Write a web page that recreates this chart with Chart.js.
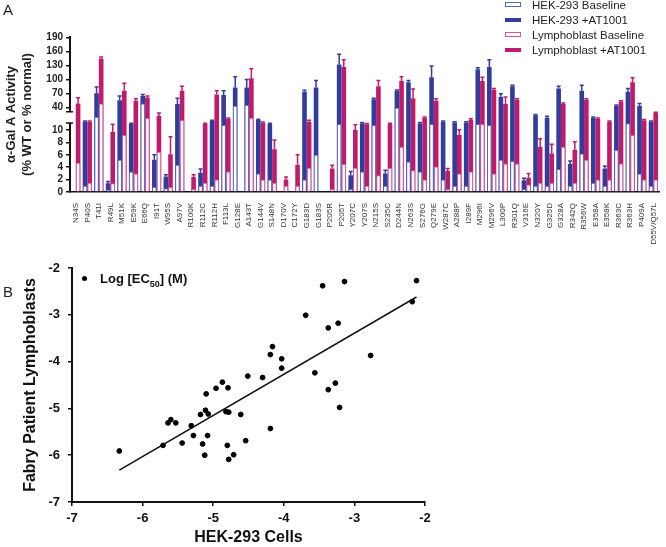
<!DOCTYPE html>
<html>
<head>
<meta charset="utf-8">
<script src="https://cdn.jsdelivr.net/npm/chart.js@4.4.1/dist/chart.umd.min.js"></script>
<style>
  body { margin: 0; background: #fff; font-family: "Liberation Sans", Arial, sans-serif; }
  #wrap { position: relative; width: 666px; height: 547px; overflow: hidden; }
  canvas { position: absolute; }
  #chartA { left: 0; top: 0; }
  #chartB { left: 0; top: 250px; }
  .panel { position: absolute; font-size: 15px; color: #222; }
  #legA { position: absolute; left: 505px; top: -2px; font-size: 11.5px; color: #222; line-height: 15px; }
  #legA .box { display: inline-block; width: 16px; height: 4px; vertical-align: middle; margin-right: 11px; position: relative; top: -1px; }
  #legB { position: absolute; left: 82px; top: 271px; font-size: 13px; font-weight: bold; color: #111; white-space: nowrap; }
  #legB .dot { display: inline-block; width: 5px; height: 5px; border-radius: 50%; background: #000; margin-right: 13px; vertical-align: middle; position: relative; top: -1px; }
  #legB sub { font-size: 9px; }
</style>
</head>
<body>
<div id="wrap">
  <canvas id="chartA" width="666" height="250"></canvas>
  <canvas id="chartB" width="440" height="297"></canvas>
  <div class="panel" style="left:3px;top:1px;">A</div>
  <div class="panel" style="left:3px;top:283px;">B</div>
  <div id="legA"></div>
  <div id="legB"><span class="dot"></span>Log [EC<sub>50</sub>] (M)</div>
</div>
<script>
Chart.defaults.font.family = "'Liberation Sans', Arial, sans-serif";

// ---- panel A data ----
const mutations = ["N34S","P40S","T41I","R49L","M51K","E59K","E66Q","I91T","W95S","A97V",
  "R100K","R112C","R112H","F113L","G128E","A143T","G144V","S148N","D170V","C172Y",
  "G183D","G183S","P205R","P205T","Y207C","Y207S","N215S","S235C","D244N","N263S",
  "S276G","Q279E","W287C","A288P","I289F","M296I","M296V","L300P","R301Q","V316E",
  "N320Y","G325D","G328A","R342Q","R356W","E358A","E358K","R363C","R363H","P409A","D55V/Q57L"];

const hekBaseline = [null,1,28,0.4,5.2,3.3,49,0.8,0.6,4.4,
  null,1,1,16.7,44,46,3,2,null,null,
  2,6,null,18,0.5,3.3,16.7,1,40,4.9,
  3.3,18,2,1,1,18,16.7,5.2,5,0.5,
  1,1,3.7,1,6.2,1.5,1,6.8,19,3,1];
const hekTreated = [null,21,71,1.4,56,18,65,5.2,2.5,48,
  null,3.1,22,67,83,83,23.5,18,null,null,
  74,83,null,132,2.7,19,58,3.0,76,94,
  19,105,21,20,20,122,127,63,86,1.9,
  30,26.5,81,4.5,76,26.5,3.8,44,74,44,21];
const hekTreatedErr = [0,1,13,0.3,9,1,3,0.8,0.3,12,
  0,0.6,1,9,23,17,1,1,0,0,
  3,15,0,22,0.6,1,2,0.5,2,4,
  1,24,1,1,1,3,15,7,2,0.3,
  1,2,5,0.5,12,1,0.4,2,7,5,1];
const lymBaseline = [4.7,1.5,49,1.4,9.2,3,26,6.5,0.8,23.5,
  0.5,1.5,2,3.3,null,26.5,2,1.5,1,1,
  3.9,null,0.5,4.5,3.9,1,2.7,3.9,7.3,3.5,
  2,4.1,0.5,3,3.3,18,3,4.6,4.6,1.2,
  1.5,1.5,7.3,1.5,5.2,2,2,4.6,9.2,2,2];
const lymTreated = [49,21,145,9.7,76,55,62,29,6.1,76,
  2.4,18,68,25,null,103,19.8,6.9,2.0,4.4,
  21,null,3.8,127,10,17.7,86,18,97,60,
  26.5,55,3.4,9.2,23.5,97,78,48,57,2.3,
  7.3,6.2,48,6.8,57,25,21,53,94,23,33];
const lymTreatedErr = [12,1,3,8,16,4,3,4,2.8,10,
  0.4,1,8,1,0,20,1,1.5,0.4,1.6,
  2,0,0.5,15,7,1,12,1,9,20,
  1,4,0.4,1,1.5,8,3,15,2,0.7,
  1.3,1.5,2,1.3,2,1,1,2,10,1,1];
const yTicksA = [0,2,4,6,8,10,40,70,100,130,160,190];

// ---- panel B data ----
const hekLog = [-6.33,-5.71,-5.64,-5.60,-5.53,-5.44,-5.31,-5.28,-5.18,-5.15,-5.12,-5.11,-5.10,-5.08,-5.07,
  -4.96,-4.87,-4.82,-4.80,-4.79,-4.78,-4.78,-4.71,-4.61,-4.54,-4.51,-4.30,-4.19,-4.19,-4.16,-4.03,-4.03,
  -3.69,-3.56,-3.45,-3.37,-3.37,-3.27,-3.23,-3.21,-3.14,-2.77,-2.18,-2.12];
const lymLog = [-5.91,-5.79,-5.31,-5.24,-5.31,-5.74,-5.37,-5.58,-5.13,-5.76,-6.00,-5.04,-4.69,-5.58,-5.12,
  -4.57,-4.44,-5.07,-5.79,-4.56,-5.08,-6.09,-5.99,-5.13,-5.69,-4.31,-4.34,-3.85,-5.43,-3.68,-3.94,-4.14,
  -3.01,-4.24,-2.38,-3.28,-4.60,-4.46,-3.18,-4.98,-2.29,-3.87,-2.72,-2.27];
const fitX = [-6.33, -2.12];
const fitY = [-6.32, -2.62];

const BLUE = "#313c9c", BLUE_LINE = "#5d66c2";
const PINK = "#c21a6b", PINK_LINE = "#d5589a";

// broken y axis: 0-10 stretched, 10-40 squeezed, 40-190 compressed
function brk(v) {
  if (v == null) return null;
  if (v <= 10) return v * 6.2;
  if (v < 40) return 62 + (v - 10) * 0.743;
  return 84.3 + (v - 40) * 0.469;
}

const errorBars = {
  id: "errorBars",
  afterDatasetsDraw(chart) {
    const { ctx, scales: { y } } = chart;
    chart.data.datasets.forEach((ds, di) => {
      if (!ds.err) return;
      const meta = chart.getDatasetMeta(di);
      ctx.save();
      ctx.strokeStyle = ds.backgroundColor;
      ctx.lineWidth = 1.5;
      meta.data.forEach((bar, i) => {
        const v = ds.raw[i], e = ds.err[i];
        if (v == null || !e) return;
        const y0 = y.getPixelForValue(brk(v));
        const y1 = y.getPixelForValue(brk(v + e));
        ctx.beginPath();
        ctx.moveTo(bar.x, y0); ctx.lineTo(bar.x, y1);
        ctx.moveTo(bar.x - 2, y1); ctx.lineTo(bar.x + 2, y1);
        ctx.stroke();
      });
      ctx.restore();
    });
  }
};

const axisBreak = {
  id: "axisBreak",
  afterDraw(chart) {
    const { ctx, scales: { y } } = chart;
    const x = y.right;
    const top = y.getPixelForValue(brk(40)) + 4;
    const bot = y.getPixelForValue(brk(10)) - 7;
    ctx.save();
    ctx.fillStyle = "#fff";
    ctx.fillRect(x - 1.6, top, 3.2, bot - top);
    ctx.strokeStyle = "#111";
    ctx.lineWidth = 1.5;
    ctx.beginPath();
    ctx.moveTo(x - 4, top); ctx.lineTo(x + 3, top);
    ctx.moveTo(x - 4, bot); ctx.lineTo(x + 3, bot);
    ctx.stroke();
    ctx.restore();
  }
};

const seriesA = [
  { label: "HEK-293 Baseline", raw: hekBaseline, stack: "hek", order: 0, backgroundColor: "#fff", borderColor: BLUE_LINE, borderWidth: 1, legendFill: "#fff" },
  { label: "HEK-293 +AT1001", raw: hekTreated, err: hekTreatedErr, stack: "hek", order: 1, backgroundColor: BLUE, borderColor: BLUE, borderWidth: 0 },
  { label: "Lymphoblast Baseline", raw: lymBaseline, stack: "lym", order: 0, backgroundColor: "#fff", borderColor: PINK_LINE, borderWidth: 1 },
  { label: "Lymphoblast +AT1001", raw: lymTreated, err: lymTreatedErr, stack: "lym", order: 1, backgroundColor: PINK, borderColor: PINK, borderWidth: 0 }
];
seriesA.forEach(s => { s.data = s.raw.map(brk); });

new Chart(document.getElementById("chartA"), {
  type: "bar",
  data: { labels: mutations, datasets: seriesA },
  plugins: [errorBars, axisBreak],
  options: {
    responsive: false,
    animation: false,
    layout: { padding: { top: 37, right: 4, left: 0, bottom: 0 } },
    plugins: { legend: { display: false }, tooltip: { enabled: false } },
    datasets: { bar: { categoryPercentage: 0.8, barPercentage: 1 } },
    scales: {
      x: {
        stacked: true,
        grid: { display: false },
        border: { color: "#111", width: 1.5 },
        ticks: { autoSkip: false, minRotation: 90, maxRotation: 90, padding: 3, color: "#333", font: { size: 8 } },
        afterFit: s => { s.height = 58; }
      },
      y: {
        stacked: false,
        min: 0,
        max: 155,
        afterBuildTicks: s => { s.ticks = yTicksA.map(v => ({ value: brk(v) })); },
        ticks: { autoSkip: false, callback: (val, i) => yTicksA[i], color: "#222", padding: 3, font: { size: 10, weight: "bold" } },
        grid: { drawOnChartArea: false, tickLength: 4, color: "#111", lineWidth: 1.5 },
        border: { color: "#111", width: 2 },
        title: {
          display: true,
          text: ["\u03b1-Gal A Activity", "(% WT or % normal)"],
          color: "#222",
          font: { size: 13, weight: "bold", lineHeight: 1.25 },
          padding: { top: 3, bottom: 0 }
        },
        afterFit: s => { s.width = 70; }
      }
    }
  }
});

// HTML legend for panel A
document.getElementById("legA").innerHTML = seriesA.map(s => {
  const filled = s.borderWidth === 0;
  const style = filled ? `background:${s.backgroundColor};` : `background:#fff;border:1px solid ${s.borderColor};width:14px;height:3px;`;
  return `<div><span class="box" style="${style}"></span>${s.label}</div>`;
}).join("");

new Chart(document.getElementById("chartB"), {
  type: "scatter",
  data: {
    datasets: [
      {
        label: "Log [EC50] (M)",
        data: hekLog.map((x, i) => ({ x, y: lymLog[i] })),
        backgroundColor: "#000",
        borderColor: "#000",
        pointRadius: 2.4,
        order: 0
      },
      {
        type: "line",
        label: "fit",
        data: fitX.map((x, i) => ({ x, y: fitY[i] })),
        borderColor: "#111",
        borderWidth: 1.5,
        pointRadius: 0,
        fill: false,
        order: 1
      }
    ]
  },
  options: {
    responsive: false,
    animation: false,
    layout: { padding: { top: 18, right: 15, left: 0, bottom: 0 } },
    plugins: { legend: { display: false }, tooltip: { enabled: false } },
    scales: {
      x: {
        type: "linear", min: -7, max: -2,
        ticks: { stepSize: 1, color: "#111", padding: 5, font: { size: 13, weight: "bold" } },
        grid: { drawOnChartArea: false, tickLength: 4, color: "#111", lineWidth: 1.5 },
        border: { color: "#111", width: 2 },
        title: { display: true, text: "HEK-293 Cells", color: "#111", font: { size: 16, weight: "bold", lineHeight: 1.2 }, padding: 0 },
        afterFit: s => { s.height = 45; }
      },
      y: {
        type: "linear", min: -7, max: -2,
        ticks: { stepSize: 1, color: "#111", padding: 8, font: { size: 13, weight: "bold" } },
        grid: { drawOnChartArea: false, tickLength: 4, color: "#111", lineWidth: 1.5 },
        border: { color: "#111", width: 2 },
        title: { display: true, text: "Fabry Patient Lymphoblasts", color: "#111", font: { size: 16, weight: "bold", lineHeight: 1.2 }, padding: { top: 21, bottom: 0 } },
        afterFit: s => { s.width = 72; }
      }
    }
  }
});
</script>
</body>
</html>
